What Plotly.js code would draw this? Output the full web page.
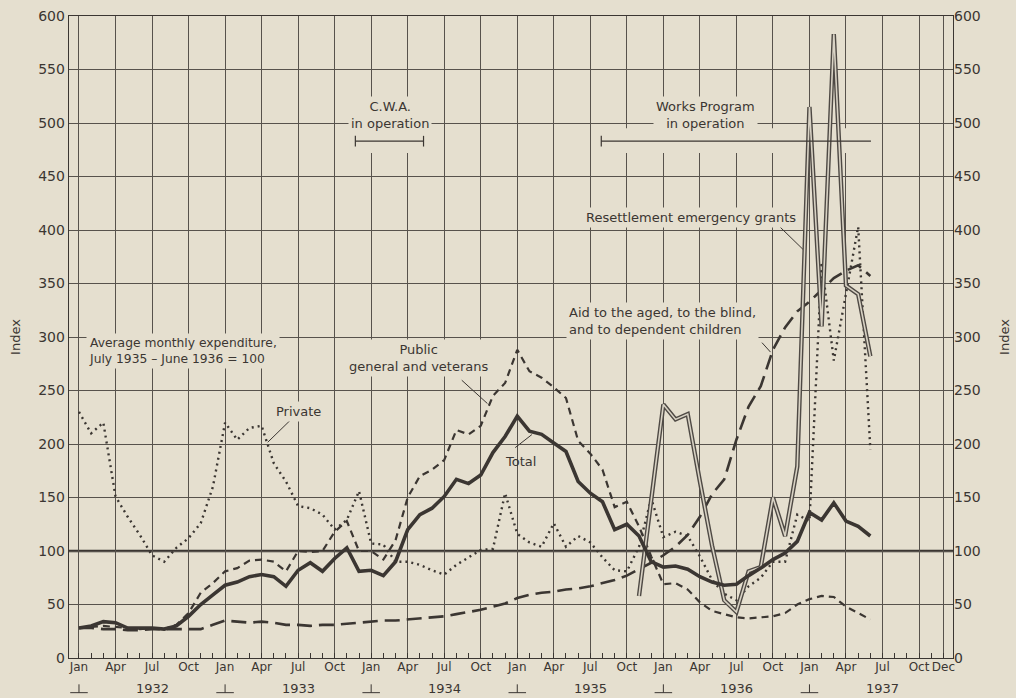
<!DOCTYPE html>
<html>
<head>
<meta charset="utf-8">
<script src="https://cdn.plot.ly/plotly-3.0.1.min.js"></script>
<style>
html,body{margin:0;padding:0;background:#e5dfcf;}
#chart{width:1016px;height:698px;}
</style>
</head>
<body>
<div id="chart"></div>
<script>
// ---------- categories / ticks ----------
const monthNames = ["Jan","Feb","Mar","Apr","May","Jun","Jul","Aug","Sep","Oct","Nov","Dec"];
const years = ["1932","1933","1934","1935","1936","1937"];
const quarterMonths = ["Jan","Apr","Jul","Oct"];
const extraTickMonths = ["Dec 1937"];
const yTicks = [0,50,100,150,200,250,300,350,400,450,500,550,600];

// ---------- series values (Jan 1932 - Jun 1937, monthly index) ----------
const total = [
  28, 30, 34, 33, 28, 28, 28, 27, 30, 39, 50, 59,
  68, 71, 76, 78, 76, 67, 82, 89, 81, 93, 103, 81,
  82, 77, 90, 120, 134, 140, 151, 167, 163, 171, 192, 207,
  226, 212, 209, 201, 193, 165, 154, 146, 120, 125, 114, 90,
  85, 86, 83, 76, 71, 68, 69, 77, 84, 92, 98, 109,
  136, 129, 145, 128, 123, 114
];
const publicGeneral = [
  28, 29, 30, 29, 28, 27, 28, 27, 31, 42, 61, 70,
  81, 84, 91, 92, 90, 81, 100, 99, 100, 118, 128, 100,
  100, 92, 110, 150, 170, 176, 185, 213, 209, 217, 245, 257,
  288, 268, 262, 253, 243, 203, 191, 176, 141, 146, 123, 95,
  69, 70, 64, 52, 44, 41, 38, 37, 38, 39, 42, 50,
  55, 58, 57, 48, 42, 36
];
const privateAgencies = [
  230, 210, 220, 151, 132, 115, 96, 90, 103, 112, 126, 160,
  220, 204, 215, 217, 182, 165, 142, 140, 134, 120, 129, 156,
  107, 106, 90, 90, 87, 82, 78, 87, 94, 101, 102, 154,
  116, 108, 104, 126, 104, 114, 108, 94, 82, 81, 104, 149,
  113, 118, 114, 95, 73, 60, 54, 67, 75, 90, 90, 134,
  128, 370, 278, 340, 403, 195
];
const aidAgedBlindChildren = [
  28, 28, 27, 27, 26, 26, 27, 27, 27, 27, 27, 31,
  35, 34, 33, 34, 33, 31, 31, 30, 31, 31, 32, 33,
  34, 35, 35, 36, 37, 38, 39, 41, 43, 45, 48, 51,
  56, 59, 61, 62, 64, 65, 67, 70, 73, 77, 83, 89,
  96, 104, 115, 132, 153, 167, 204, 235, 254, 288, 309, 324,
  333, 344, 355, 362, 367, 357
];
const resettlementStart = "Nov 1935";
const resettlementGrants = [
  58, 148, 237, 223, 228, 165, 105, 54, 43, 81, 85, 150,
  114, 179, 515, 310, 583, 348, 340, 282
];
const baseLevel = 100;

// ---------- build month index ----------
const months = [];
years.forEach(y => monthNames.forEach(m => months.push(m + " " + y)));
const idx = label => months.indexOf(label);
const xs = arr => arr.map((_, i) => i);

const tickvals = [], ticktext = [];
months.forEach((lab, i) => {
  const mn = lab.split(" ")[0];
  if (quarterMonths.includes(mn) || extraTickMonths.includes(lab)) {
    tickvals.push(i); ticktext.push(mn);
  }
});

const INK = "#3b3632";
const GRID = "#57524c";
const PAPER = "#e5dfcf";
const FONT = "DejaVu Sans";

const resStart = idx(resettlementStart);
const resX = resettlementGrants.map((_, i) => resStart + i);

const traces = [
  {x: xs(aidAgedBlindChildren), y: aidAgedBlindChildren, mode: "lines",
   line: {color: INK, width: 2.6, dash: "15px,7px"}},
  {x: xs(publicGeneral), y: publicGeneral, mode: "lines",
   line: {color: INK, width: 2.2, dash: "7px,5px"}},
  {x: xs(privateAgencies), y: privateAgencies, mode: "lines",
   line: {color: INK, width: 2.4, dash: "2px,4px"}},
  {x: resX, y: resettlementGrants, mode: "lines",
   line: {color: "#4e4944", width: 4.4}},
  {x: resX, y: resettlementGrants, mode: "lines",
   line: {color: "#d8d2c4", width: 1.6}},
  {x: xs(total), y: total, mode: "lines",
   line: {color: INK, width: 3.6}},
  // right axis companion (invisible)
  {x: [0], y: [0], yaxis: "y2", mode: "markers", marker: {opacity: 0}, hoverinfo: "skip"}
];

const shapes = [];
// base line at 100
shapes.push({type: "line", xref: "paper", x0: 0, x1: 1, yref: "y", y0: baseLevel, y1: baseLevel,
  line: {color: INK, width: 2.4}, layer: "below"});

// gridline masks behind operation bars
shapes.push({type: "rect", xref: "x", yref: "y", x0: 22.2, x1: 28.8, y0: 472, y1: 495,
  fillcolor: PAPER, line: {width: 0}, layer: "between"});
shapes.push({type: "rect", xref: "x", yref: "y", x0: 42.4, x1: 65.5, y0: 472, y1: 495,
  fillcolor: PAPER, line: {width: 0}, layer: "between"});

// operation bars
const barY = 483;
shapes.push({type: "line", xref: "x", yref: "y", x0: 22.7, x1: 28.3, y0: barY, y1: barY, line: {color: INK, width: 1.2}});
shapes.push({type: "line", xref: "x", yref: "y", x0: 22.7, x1: 22.7, y0: barY - 5, y1: barY + 5, line: {color: INK, width: 1.2}});
shapes.push({type: "line", xref: "x", yref: "y", x0: 28.3, x1: 28.3, y0: barY - 5, y1: barY + 5, line: {color: INK, width: 1.2}});
shapes.push({type: "line", xref: "x", yref: "y", x0: 42.9, x1: 65.05, y0: barY, y1: barY, line: {color: INK, width: 1.2}});
shapes.push({type: "line", xref: "x", yref: "y", x0: 42.9, x1: 42.9, y0: barY - 5, y1: barY + 5, line: {color: INK, width: 1.2}});

// leader lines
const leaders = [
  [17.34, 222, 15.5, 201.6],
  [31.44, 259.6, 33.55, 237.8],
  [35.83, 196.6, 37.2, 208.8],
  [57.6, 402.6, 59.46, 382],
  [56.1, 294.7, 56.8, 285.9]
];
leaders.forEach(l => shapes.push({type: "line", xref: "x", yref: "y", x0: l[0], y0: l[1], x1: l[2], y1: l[3],
  line: {color: INK, width: 1}, layer: "above"}));

// year bracket marks under each January
years.forEach(y => {
  const j = idx("Jan " + y);
  shapes.push({type: "line", xref: "x", yref: "paper", x0: j - 0.72, x1: j + 0.72, y0: -0.054, y1: -0.054,
    line: {color: INK, width: 1}});
  shapes.push({type: "line", xref: "x", yref: "paper", x0: j, x1: j, y0: -0.054, y1: -0.041,
    line: {color: INK, width: 1}});
});

const ann = (text, x, y, opts = {}) => Object.assign({
  text, x, y, xref: "x", yref: "y", showarrow: false,
  font: {family: FONT, size: 13, color: INK}, bgcolor: PAPER, borderpad: 2
}, opts);

const annotations = [
  ann("Average monthly expenditure,<br>July 1935 \u2013 June 1936 = 100", 0.55, 286.5,
      {xanchor: "left", align: "left", font: {family: FONT, size: 12.3, color: INK}}),
  ann("Private", 18.0, 230.3),
  ann("Public<br>general and veterans", 27.85, 280),
  ann("Total", 36.24, 183.5, {bgcolor: "rgba(0,0,0,0)"}),
  ann("C.W.A.<br>in operation", 25.55, 507.5),
  ann("Works Program<br>in operation", 51.5, 507.5),
  ann("Resettlement emergency grants", 41.4, 412, {xanchor: "left"}),
  ann("Aid to the aged, to the blind,<br>and to dependent children", 40.0, 314.6, {xanchor: "left", align: "left"})
];
years.forEach(y => {
  annotations.push({text: y, x: idx("Jul " + y), y: -0.047, xref: "x", yref: "paper",
    yanchor: "middle", showarrow: false, font: {family: FONT, size: 13, color: INK}});
});

const layout = {
  width: 1016, height: 698,
  margin: {l: 69, r: 63, t: 16, b: 40},
  paper_bgcolor: PAPER, plot_bgcolor: PAPER,
  showlegend: false,
  font: {family: FONT, color: INK, size: 13},
  xaxis: {
    range: [-0.82, 71.79], tickmode: "array", tickvals, ticktext, tickangle: 0,
    ticklabelstandoff: -3,
    showgrid: true, gridcolor: GRID, gridwidth: 1,
    showline: true, mirror: true, linecolor: INK, linewidth: 1.3,
    zeroline: false, ticks: "", tickfont: {family: FONT, size: 12, color: INK},
    minor: {tick0: 0, dtick: 1, ticks: "inside", ticklen: 5, tickcolor: INK, tickwidth: 1, showgrid: false}
  },
  yaxis: {
    range: [0, 600], tickmode: "array", tickvals: yTicks,
    showgrid: true, gridcolor: GRID, gridwidth: 1,
    showline: true, mirror: true, linecolor: INK, linewidth: 1.3,
    zeroline: false, ticks: "", tickfont: {family: FONT, size: 14, color: INK},
    title: {text: "Index", font: {family: FONT, size: 13, color: INK}, standoff: 14}
  },
  yaxis2: {
    overlaying: "y", side: "right", range: [0, 600], tickmode: "array", tickvals: yTicks,
    showgrid: false, zeroline: false, showline: false, ticks: "",
    tickfont: {family: FONT, size: 14, color: INK},
    title: {text: "Index", font: {family: FONT, size: 13, color: INK}, standoff: 20}
  },
  shapes, annotations
};

Plotly.newPlot("chart", traces, layout, {staticPlot: true, displayModeBar: false});
</script>
</body>
</html>
